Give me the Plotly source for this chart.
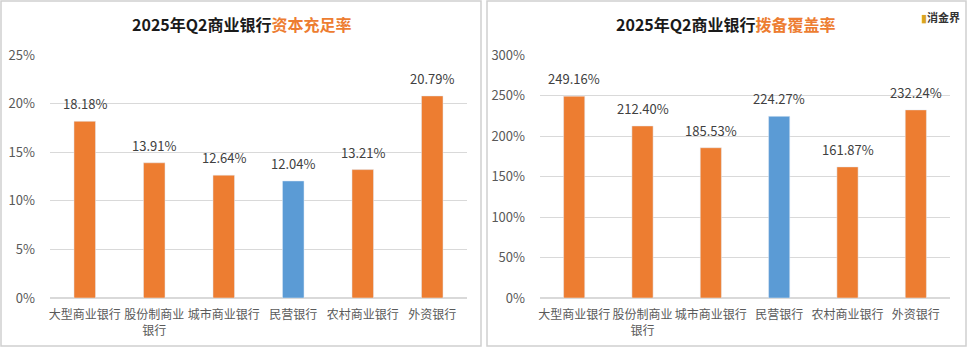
import plotly.graph_objects as go

categories = ["大型商业银行", "股份制商业<br>银行", "城市商业银行", "民营银行", "农村商业银行", "外资银行"]
car_values = [18.18, 13.91, 12.64, 12.04, 13.21, 20.79]
pcr_values = [249.16, 212.40, 185.53, 224.27, 161.87, 232.24]
highlight = "民营银行"
left_ticks = [0, 5, 10, 15, 20, 25]
right_ticks = [0, 50, 100, 150, 200, 250, 300]

ORANGE = "#ED7D31"
BLUE = "#5B9BD5"
colors = [BLUE if c == highlight else ORANGE for c in categories]
FONT = "Noto Sans CJK SC"

W, H = 968, 348
fig = go.Figure()
for vals, xa, ya in [(car_values, "x", "y"), (pcr_values, "x2", "y2")]:
    fig.add_trace(go.Bar(x=categories, y=vals, marker_color=colors,
                         cliponaxis=False, xaxis=xa, yaxis=ya, width=0.31))
    for c, v in zip(categories, vals):
        fig.add_annotation(x=c, y=v, xref=xa, yref=ya, text=f"{v:.2f}%", showarrow=False,
                           xanchor="center", yanchor="bottom", yshift=6,
                           font=dict(size=13, color="#404040", family=FONT))

yb, yt = (H - 298) / H, (H - 55) / H
ax_common = dict(tickfont=dict(size=12, color="#595959", family=FONT), showline=False,
                 ticks="", showgrid=False, ticklabelstandoff=8, automargin=False)
y_common = dict(showgrid=True, gridcolor="#D9D9D9", zeroline=True, zerolinecolor="#D9D9D9",
                ticklabelstandoff=14, automargin=False,
                tickfont=dict(size=13, color="#595959", family=FONT))
fig.update_layout(
    width=W, height=H, margin=dict(l=0, r=0, t=0, b=0),
    paper_bgcolor="white", plot_bgcolor="white", showlegend=False,
    font=dict(family=FONT),
    xaxis=dict(domain=[50 / W, 467 / W], anchor="y", **ax_common),
    xaxis2=dict(domain=[540 / W, 950 / W], anchor="y2", **ax_common),
    yaxis=dict(domain=[yb, yt], anchor="x", range=[0, 25], tickvals=left_ticks,
               ticktext=[f"{t}%" for t in left_ticks], **y_common),
    yaxis2=dict(domain=[yb, yt], anchor="x2", range=[0, 300], tickvals=right_ticks,
                ticktext=[f"{t}%" for t in right_ticks], **y_common),
)

# panel borders
for x0, x1 in [(1, 481), (487, 966)]:
    fig.add_shape(type="rect", xref="paper", yref="paper", x0=x0 / W, x1=x1 / W,
                  y0=2 / H, y1=(H - 1) / H, line=dict(color="#D0D0D0", width=1.5))

for cx, tail in [(242, "资本充足率"), (726, "拨备覆盖率")]:
    fig.add_annotation(xref="paper", yref="paper", x=cx / W, y=(H - 24) / H, showarrow=False,
                       xanchor="center", yanchor="middle",
                       text=f"<b>2025年Q2商业银行<span style='color:#ED7D31'>{tail}</span></b>",
                       font=dict(size=16, color="#1a1a1a", family=FONT))
# watermark logo
fig.add_annotation(xref="paper", yref="paper", x=940 / W, y=(H - 17) / H, showarrow=False,
                   xanchor="center", yanchor="middle",
                   text="<span style='color:#D9A520'>▮</span><b>消金界</b>",
                   font=dict(size=11, color="#333333", family=FONT))

fig.write_html("out.html")
